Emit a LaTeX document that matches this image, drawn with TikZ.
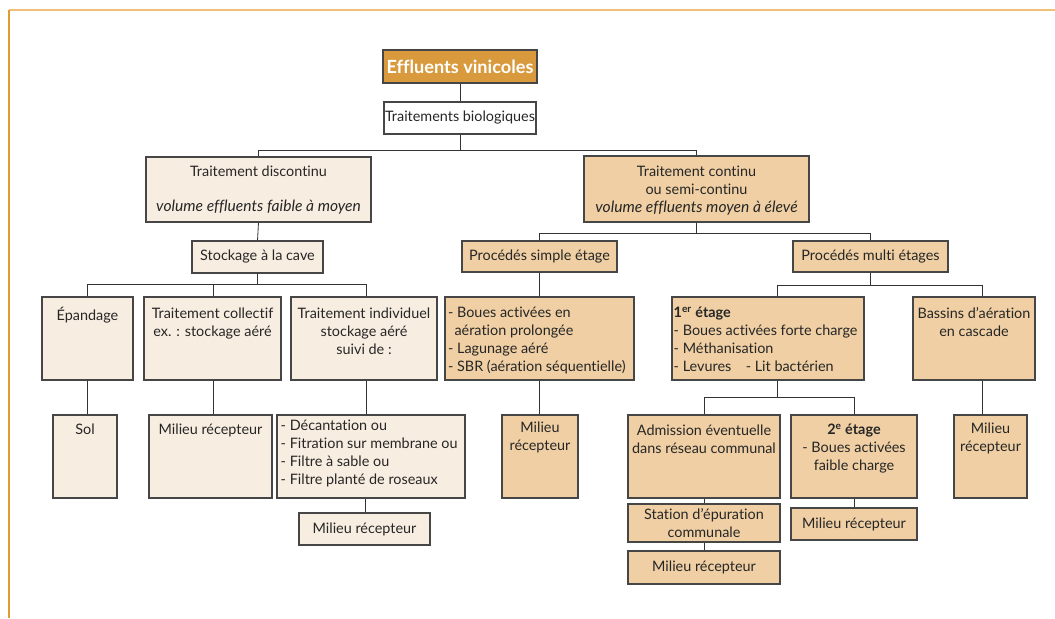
\documentclass[tikz,border=0pt]{standalone}
\usepackage{fontspec}
\setmainfont{Lato}[Ligatures={TeX,NoCommon}]
\usetikzlibrary{positioning,fit}
\definecolor{vinorange}{RGB}{216,154,60}
\definecolor{vincream}{RGB}{248,237,225}
\definecolor{vintan}{RGB}{239,207,163}
\definecolor{boxline}{RGB}{70,70,70}
\definecolor{frametop}{RGB}{240,192,120}
\definecolor{frameleft}{RGB}{226,156,52}
\newcommand{\vinit}[1]{{\fontsize{11.7}{13.5}\selectfont\itshape #1}}

\begin{document}
\begin{tikzpicture}[x=0.75pt,y=0.75pt,yscale=-1,
		box/.style={draw=boxline,line width=0.8pt,inner sep=0pt},
		lbox/.style={box,fill=vincream},
		rbox/.style={box,fill=vintan},
		txt/.style={inner sep=0pt,align=center,text=black!85,font=\fontsize{10.8}{13.5}\selectfont},
		ltxt/.style={txt,align=left,anchor=north west},
		link/.style={draw=black!80,line width=0.6pt}]
	\useasboundingbox (0,0) rectangle (1055,618);
	
	%Straight Lines [frame]
	\draw [color=frametop,line width=1.3pt] (9,10) -- (1055,10) ;
	\draw [color=frameleft,line width=1.3pt] (9,10) -- (9,618) ;
	
	%Shape: Rectangle [top]
	\node[box,fill=vinorange,fit={(383,50) (537,83)}] (effluents) {};
	\node[txt,text=white,font=\fontsize{13.6}{15}\selectfont\bfseries] (effluents-t) at (effluents.center) {Effluents vinicoles};
	\node[box,fill=white,fit={(384,102) (536,134)}] (bio) {};
	\node[txt] (bio-t) at (bio.center) {Traitements biologiques};
	
	%Shape: Rectangle [left branch]
	\node[lbox,fit={(146,157) (371,222)}] (discontinu) {};
	\node[txt,below=7pt of discontinu.north] (discontinu-t) {Traitement discontinu\\[12.5pt]\vinit{volume effluents faible à moyen}};
	\node[lbox,fit={(192,241) (323,273)}] (stockage) {};
	\node[txt] (stockage-t) at (stockage.center) {Stockage à la cave};
	\node[lbox,fit={(42,297) (133,380)}] (epandage) {};
	\node[txt,below=8pt of epandage.north] (epandage-t) {Épandage};
	\node[lbox,fit={(144,297) (281,380)}] (collectif) {};
	\node[txt,below=8pt of collectif.north] (collectif-t) {Traitement collectif\\ex. : stockage aéré};
	\node[lbox,fit={(291,297) (437,380)}] (individuel) {};
	\node[txt,below=8pt of individuel.north] (individuel-t) {Traitement individuel\\stockage aéré\\suivi de :};
	\node[lbox,fit={(53,415) (117,498)}] (sol) {};
	\node[txt,below=7pt of sol.north] (sol-t) {Sol};
	\node[lbox,fit={(149,415) (272,498)}] (milieuA) {};
	\node[txt,below=7pt of milieuA.north] (milieuA-t) {Milieu récepteur};
	\node[lbox,fit={(277,415) (465,498)}] (deca) {};
	\node[ltxt] (deca-t) at ([xshift=3pt,yshift=4pt]deca.north west) {- Décantation ou\\- Fitration sur membrane ou\\- Filtre à sable ou\\- Filtre planté de roseaux};
	\node[lbox,fit={(299,513) (430,545)}] (milieuC) {};
	\node[txt] (milieuC-t) at (milieuC.center) {Milieu récepteur};
	
	%Shape: Rectangle [right branch]
	\node[rbox,fit={(584,156) (809,222)}] (continu) {};
	\node[txt,below=8pt of continu.north] (continu-t) {Traitement continu\\ou semi-continu\\\vinit{volume effluents moyen à élevé}};
	\node[rbox,fit={(462,241) (617,272)}] (simple) {};
	\node[txt] (simple-t) at (simple.center) {Procédés simple étage};
	\node[rbox,fit={(793,241) (948,272)}] (multi) {};
	\node[txt] (multi-t) at (multi.center) {Procédés multi étages};
	\node[rbox,fit={(445,297) (634,380)}] (boues) {};
	\node[ltxt] (boues-t) at ([xshift=2.5pt,yshift=8pt]boues.north west) {- Boues activées en\\\hspace*{0.45em}aération prolongée\\- Lagunage aéré\\- SBR (aération séquentielle)};
	\node[rbox,fit={(672,297) (864,380)}] (etage1) {};
	\node[ltxt] (etage1-t) at ([xshift=1.5pt,yshift=8pt]etage1.north west) {\textbf{1\textsuperscript{er} étage}\\- Boues activées forte charge\\- Méthanisation\\- Levures\hspace{1em}- Lit bactérien};
	\node[rbox,fit={(913,297) (1035,380)}] (bassins) {};
	\node[txt,below=8pt of bassins.north] (bassins-t) {Bassins d'aération\\en cascade};
	\node[rbox,fit={(502,415) (578,498)}] (milieuB) {};
	\node[txt,below=5pt of milieuB.north] (milieuB-t) {Milieu\\récepteur};
	\node[rbox,fit={(628,415) (780,498)}] (admission) {};
	\node[txt,below=7.5pt of admission.north] (admission-t) {Admission éventuelle\\dans réseau communal};
	\node[rbox,fit={(791,415) (917,498)}] (etage2) {};
	\node[txt,below=7pt of etage2.north] (etage2-t) {\textbf{2\textsuperscript{e} étage}\\- Boues activées\\faible charge};
	\node[rbox,fit={(954,415) (1027,498)}] (milieuD) {};
	\node[txt,below=6pt of milieuD.north] (milieuD-t) {Milieu\\récepteur};
	\node[rbox,fit={(628,504) (780,542)}] (station) {};
	\node[txt] (station-t) at (station.center) {Station d'épuration\\communale};
	\node[rbox,fit={(628,551) (780,584)}] (milieuE) {};
	\node[txt] (milieuE-t) at (milieuE.center) {Milieu récepteur};
	\node[rbox,fit={(791,508) (917,540)}] (milieuF) {};
	\node[txt] (milieuF-t) at (milieuF.center) {Milieu récepteur};
	
	%Straight Lines [connectors]
	\draw[link] (effluents.south) -- (bio.north);
	\draw[link] (bio.south) -- ++(0,16) -| (discontinu.north);
	\draw[link] (bio.south) -- ++(0,16) -| (continu.north);
	\draw[link] (discontinu.south) -- (stockage.north);
	\draw[link] (stockage.south) -- ++(0,11) -| (epandage.north);
	\draw[link] (stockage.south) -- ++(0,11) -| ([xshift=1pt]collectif.north);
	\draw[link] (stockage.south) -- ++(0,11) -| ([xshift=2pt]individuel.north);
	\draw[link] (epandage.south) -- (epandage.south |- sol.north);
	\draw[link] ([xshift=1pt]collectif.south) -- ([xshift=1pt]collectif.south |- milieuA.north);
	\draw[link] ([xshift=2pt]individuel.south) -- ([xshift=2pt]individuel.south |- deca.north);
	\draw[link] ([xshift=-4pt]deca.south) -- ([xshift=-4pt]deca.south |- milieuC.north);
	\draw[link] (continu.south) -- ++(0,11) -| (simple.north);
	\draw[link] (continu.south) -- ++(0,11) -| (multi.north);
	\draw[link] (simple.south) -- (boues.north);
	\draw[link] (boues.south) -- (boues.south |- milieuB.north);
	\draw[link] (multi.south) -- ++(0,13) -| ([xshift=7pt]etage1.north);
	\draw[link] (multi.south) -- ++(0,13) -| ([xshift=6pt]bassins.north);
	\draw[link] ([xshift=6pt]bassins.south) -- ([xshift=6pt]bassins.south |- milieuD.north);
	\draw[link] ([xshift=7pt]etage1.south) -- ++(0,17) -| (admission.north);
	\draw[link] ([xshift=7pt]etage1.south) -- ++(0,17) -| (etage2.north);
	\draw[link] (admission.south) -- (station.north);
	\draw[link] (station.south) -- (milieuE.north);
	\draw[link] (etage2.south) -- (milieuF.north);
	
\end{tikzpicture}
\end{document}
